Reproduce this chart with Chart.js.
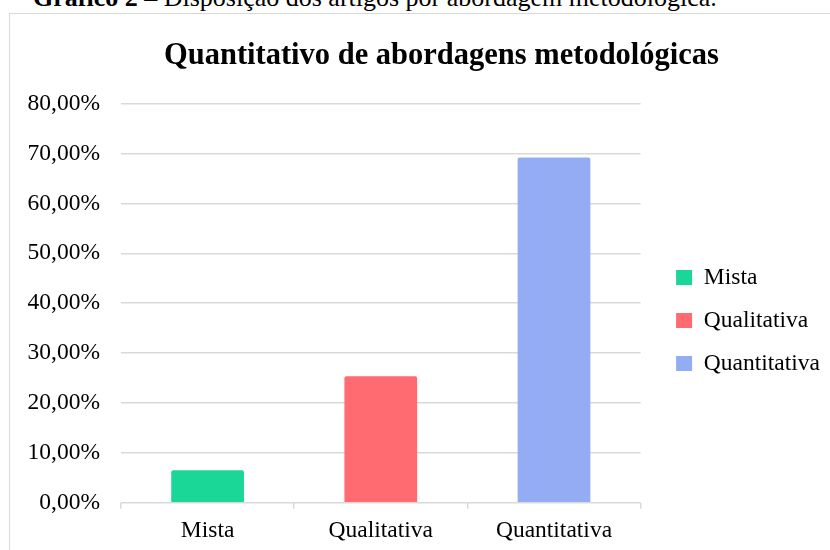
<!DOCTYPE html>
<html lang="pt">
<head>
    <meta charset="UTF-8">
    <title>Quantitativo de abordagens metodológicas</title>
    <script src="https://cdn.jsdelivr.net/npm/chart.js"></script>
    <style>
        body { margin: 0; background: #fff; overflow: hidden; }
        #caption {
            position: absolute; left: 33px; top: -15px; white-space: nowrap;
            font-family: 'Liberation Serif', serif; font-size: 26px; line-height: 26px; color: #000;
        }
        #frame {
            position: absolute; left: 9px; top: 13px; width: 900px; height: 600px;
            border: 1.5px solid #d9d9d9;
        }
        #box { position: absolute; left: 10px; top: 14px; width: 820px; height: 540px; }
    </style>
</head>
<body>
    <div id="caption"><b>Gráfico 2 –</b> Disposição dos artigos por abordagem metodológica.</div>
    <div id="frame"></div>
    <div id="box"><canvas id="chart"></canvas></div>

    <script>
        var categories = ['Mista', 'Qualitativa', 'Quantitativa'];
        var percentages = [6.54, 25.38, 69.2];
        var barColors = ['#1bd797', '#ff6b70', '#93acf3'];
        var yTicks = [0, 10, 20, 30, 40, 50, 60, 70, 80];

        var serif = "'Liberation Serif', 'Times New Roman', serif";

        // empurra legenda e título para a posição do original
        var boxNudge = {
            id: 'boxNudge',
            afterLayout: function(chart) {
                var l = chart.legend;
                l.left += 16; l.right += 16;
                l.top += 37; l.bottom += 37;
                var t = chart.titleBlock;
                t.left += 26; t.right += 26;
            }
        };

        var ctx = document.getElementById('chart').getContext('2d');
        var chart = new Chart(ctx, {
            type: 'bar',
            data: {
                labels: categories,
                datasets: [{
                    data: percentages,
                    backgroundColor: barColors,
                    borderRadius: 2,
                    barPercentage: 0.42,
                    categoryPercentage: 1
                }]
            },
            options: {
                responsive: true,
                maintainAspectRatio: false,
                animation: false,
                layout: { padding: { left: 7, right: 16, top: 0, bottom: 1 } },
                plugins: {
                    title: {
                        display: true,
                        text: 'Quantitativo de abordagens metodológicas',
                        color: '#000',
                        font: { family: serif, size: 30.5, weight: 'bold' },
                        padding: { top: 24, bottom: 29 }
                    },
                    legend: {
                        position: 'right',
                        labels: {
                            color: '#000',
                            font: { family: serif, size: 23.5 },
                            boxWidth: 16,
                            boxHeight: 15,
                            padding: 19.5,
                            generateLabels: function() {
                                return categories.map(function(c, i) {
                                    return { text: c, fillStyle: barColors[i], strokeStyle: barColors[i],
                                             lineWidth: 0, hidden: false, index: i, fontColor: '#000' };
                                });
                            }
                        }
                    },
                    tooltip: { enabled: false }
                },
                scales: {
                    x: {
                        border: { display: false },
                        grid: { drawOnChartArea: false, drawTicks: true, tickLength: 6, color: '#d9d9d9', lineWidth: 1.5 },
                        ticks: { color: '#000', font: { family: serif, size: 23.5 }, padding: 8 }
                    },
                    y: {
                        min: 0,
                        max: 80,
                        afterFit: function(scale) { scale.width = 104; },
                        afterBuildTicks: function(scale) {
                            scale.ticks = yTicks.map(function(v) { return { value: v }; });
                        },
                        border: { display: false },
                        grid: { drawTicks: false, color: '#d9d9d9', lineWidth: 1.5 },
                        ticks: {
                            color: '#000',
                            font: { family: serif, size: 23.5 },
                            padding: 21,
                            callback: function(v) { return v.toFixed(2).replace('.', ',') + '%'; }
                        }
                    }
                }
            },
            plugins: [boxNudge]
        });
    </script>
</body>
</html>
